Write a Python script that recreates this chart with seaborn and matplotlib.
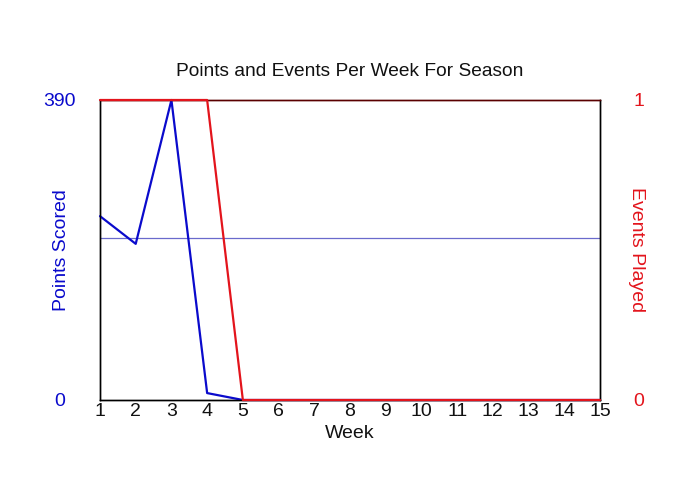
import pandas as pd
import matplotlib
matplotlib.use("Agg")
import matplotlib.pyplot as plt
import seaborn as sns

# --- Data ---
weeks = list(range(1, 16))
points_scored = [239, 203, 390, 9, 0, 0, 0, 0, 0, 0, 0, 0, 0, 0, 0]
events_played = [1, 1, 1, 1, 0, 0, 0, 0, 0, 0, 0, 0, 0, 0, 0]

df = pd.DataFrame({"Week": weeks, "Points": points_scored, "Events": events_played})

# average points over the weeks an event was played
played = df[df["Events"] > 0]
avg_points = played["Points"].mean()

blue = "#0a0acc"
red = "#e3141c"

sns.set_style("white")
plt.rcParams["font.family"] = ["Liberation Sans", "DejaVu Sans"]

fig = plt.figure(figsize=(7, 5), dpi=100)
ax = fig.add_axes([100 / 700, 0.2, 500 / 700, 0.6])
ax2 = ax.twinx()

# points line (left axis)
sns.lineplot(data=df, x="Week", y="Points", ax=ax, color=blue, linewidth=1.6, clip_on=False, zorder=3)
ax.axhline(avg_points, color="#6a6acc", linewidth=0.9)
ax.set_ylim(0, 390)
ax.set_yticks([0, 390])
ax.set_yticklabels(["0", "390"])
ax.set_xlim(1, 15)
ax.set_xticks(weeks)
ax.tick_params(axis="x", length=0, pad=2.5, labelsize=14, labelcolor="#111111")
ax.tick_params(axis="y", length=0, pad=29, labelsize=14, labelcolor=blue)
for t in ax.yaxis.get_major_ticks():
    t.label1.set_horizontalalignment("center")
ax.set_ylabel("Points Scored", color=blue, fontsize=14, va="center")
ax.yaxis.set_label_coords(-0.078, 0.5)
ax.set_xlabel("Week", fontsize=14, labelpad=3.5, color="#111111")

# events line (right axis)
sns.lineplot(data=df, x="Week", y="Events", ax=ax2, color=red, linewidth=1.6, clip_on=False, zorder=4)
ax2.set_ylim(0, 1)
ax2.set_yticks([0, 1])
ax2.set_yticklabels(["0", "1"])
ax2.tick_params(axis="y", length=0, pad=28, labelsize=14, labelcolor=red)
for t in ax2.yaxis.get_major_ticks():
    t.label2.set_horizontalalignment("center")
ax2.set_ylabel("Events Played", color=red, fontsize=14, rotation=-90, va="center")
ax2.yaxis.set_label_coords(1.074, 0.5)

for a in (ax, ax2):
    for s in a.spines.values():
        s.set_color("black")
        s.set_linewidth(1)
ax2.spines["top"].set_color("#5a0000")
ax.spines["top"].set_color("#5a0000")

ax.set_title("Points and Events Per Week For Season", fontsize=13.8, pad=17, color="#111111")

fig.savefig("out.png", dpi=100)
